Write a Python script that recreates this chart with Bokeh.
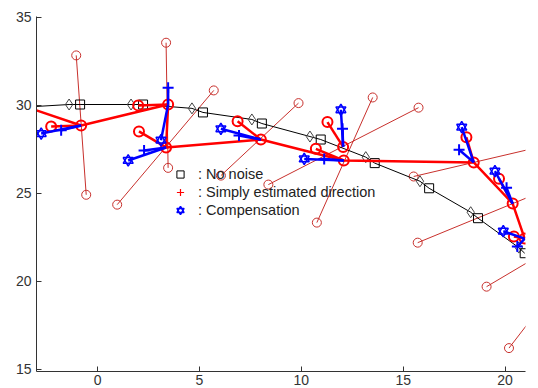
from bokeh.plotting import figure
from bokeh.models import Range1d, FixedTicker, Legend, LegendItem
from bokeh.embed import file_html
from bokeh.resources import INLINE

# ---- noise-free track: squares (positions) and diamonds ----
sq_x = [-0.86, 2.23, 5.17, 8.06, 10.95, 13.60, 16.27, 18.67, 20.96]
sq_y = [30.03, 30.03, 29.58, 28.95, 28.04, 26.70, 25.27, 23.57, 21.58]
dm_x = [-1.40, 1.64, 4.63, 7.57, 10.42, 13.16, 15.82, 18.31, 20.67]
dm_y = [30.03, 30.03, 29.81, 29.18, 28.21, 27.04, 25.67, 23.91, 21.90]
track_start = (-3.0, 29.92)

# ---- estimated path (thick red) ----
est_x = [-3.0, -0.81, 3.46, 3.36, 8.01, 12.08, 18.46, 20.37, 20.96]
est_y = [29.70, 28.84, 30.03, 27.59, 28.04, 26.85, 26.74, 24.40, 22.41]

# ---- estimation hubs ----
hub_x = [-0.81, 3.46, 3.36, 8.01, 12.05, 12.08, 18.46, 20.37, 20.96]
hub_y = [28.84, 30.03, 27.59, 28.04, 27.62, 26.85, 26.74, 24.40, 22.41]
# simply estimated direction ends (short thick red)
red_x = [-2.28, 1.99, 2.03, 6.87, 11.28, 10.71, 18.10, 19.70, 20.43]
red_y = [28.78, 29.98, 28.50, 29.08, 29.03, 27.51, 28.17, 25.81, 22.53]
# compensated direction: plus and star ends (thick blue)
plus_x = [-1.79, 3.46, 2.28, 6.94, 12.02, 11.12, 17.74, 20.07, 20.60]
plus_y = [28.56, 30.98, 27.42, 28.27, 28.65, 26.94, 27.46, 25.30, 21.96]
star_x = [-2.77, 3.11, 1.50, 6.05, 11.94, 10.14, 17.87, 19.50, 19.91]
star_y = [28.38, 28.00, 26.85, 28.65, 29.73, 26.94, 28.74, 26.24, 22.83]

# ---- thin direction lines (both ends marked with circles) ----
dir_x0 = [-1.05, 3.36, 5.70, 9.86, 15.75, 13.50, 15.51, 15.71, 19.09, 20.19]
dir_y0 = [32.82, 33.54, 30.83, 30.11, 29.85, 30.43, 25.94, 22.18, 19.68, 16.19]
dir_x1 = [-0.56, 3.46, 0.96, 6.05, 8.38, 10.76, 21.41, 25.03, 23.00, 22.50]
dir_y1 = [24.90, 26.43, 24.34, 25.99, 25.48, 23.32, 27.54, 26.62, 22.36, 19.66]

x_ticks = [0, 5, 10, 15, 20]
y_ticks = [15, 20, 25, 30, 35]

legend_labels = [": No noise", ": Simply estimated direction", ": Compensation"]

RED = "#ff0000"
THIN = "#c8302c"
BLUE = "#0000ff"
FONT = "Liberation Sans"

p = figure(width=538, height=388, output_backend="svg", toolbar_location=None,
           x_range=Range1d(-3, 21), y_range=Range1d(14.86, 35.03),
           min_border_left=36, min_border_right=13, min_border_top=16,
           min_border_bottom=17)
p.outline_line_color = None
p.grid.visible = False
p.background_fill_color = "white"

for ax in (p.xaxis[0], p.yaxis[0]):
    ax.axis_line_color = "#333333"
    ax.major_tick_line_color = "#333333"
    ax.major_tick_in = 5
    ax.major_tick_out = 0
    ax.minor_tick_in = 0
    ax.minor_tick_out = 0
    ax.major_label_text_font = FONT
    ax.major_label_text_font_size = "14px"
    ax.major_label_text_color = "#333333"
p.xaxis.ticker = FixedTicker(ticks=x_ticks)
p.yaxis.ticker = FixedTicker(ticks=y_ticks)
p.xaxis.major_label_standoff = 3
p.yaxis.major_label_standoff = 5

# thin direction lines and their end circles
p.segment(dir_x0, dir_y0, dir_x1, dir_y1, line_color=THIN, line_width=1)
p.scatter(dir_x0 + dir_x1, dir_y0 + dir_y1, marker="circle", size=9,
          fill_color=None, line_color=THIN, line_width=1)

# noise-free track
line_x = [track_start[0]]
line_y = [track_start[1]]
for a, b, c, d in zip(dm_x, dm_y, sq_x, sq_y):
    line_x += [a, c]
    line_y += [b, d]
p.line(line_x, line_y, line_color="black", line_width=1)
p.scatter(dm_x, dm_y, marker="diamond", size=11, fill_color=None,
          line_color="#444444", line_width=1)
r_sq = p.scatter(sq_x, sq_y, marker="square", size=9, fill_color=None,
                 line_color="black", line_width=1)

# estimated path and simply estimated directions
p.line(est_x, est_y, line_color=RED, line_width=2.5)
p.segment(hub_x, hub_y, red_x, red_y, line_color=RED, line_width=2.5)
p.scatter(red_x + hub_x, red_y + hub_y, marker="circle", size=10,
          fill_color=None, line_color=RED, line_width=2)
# hub crosses are kept at zero size; they only feed the legend entry
r_cross = p.scatter(hub_x, hub_y, marker="cross", size=0, line_color=RED,
                    line_width=1.2)

# compensated directions
p.segment(hub_x, hub_y, star_x, star_y, line_color=BLUE, line_width=2.5)
p.segment(hub_x, hub_y, plus_x, plus_y, line_color=BLUE, line_width=2.5)
p.scatter(plus_x, plus_y, marker="cross", size=11, line_color=BLUE, line_width=2)
r_up = p.scatter(star_x, star_y, marker="triangle", size=10, fill_color=None,
                 line_color=BLUE, line_width=1.5)
r_dn = p.scatter(star_x, star_y, marker="inverted_triangle", size=10,
                 fill_color=None, line_color=BLUE, line_width=1.5)

legend = Legend(items=[
    LegendItem(label=legend_labels[0], renderers=[r_sq]),
    LegendItem(label=legend_labels[1], renderers=[r_cross]),
    LegendItem(label=legend_labels[2], renderers=[r_up, r_dn]),
], location=(134, 152))
legend.border_line_color = None
legend.background_fill_alpha = 0
legend.padding = 0
legend.margin = 0
legend.glyph_width = 20
legend.glyph_height = 18
legend.label_height = 18
legend.spacing = 0
legend.label_standoff = 8
legend.label_text_font = FONT
legend.label_text_font_size = "14.5px"
legend.label_text_color = "#222222"
p.add_layout(legend)

open("out.html", "w").write(file_html(p, INLINE))
